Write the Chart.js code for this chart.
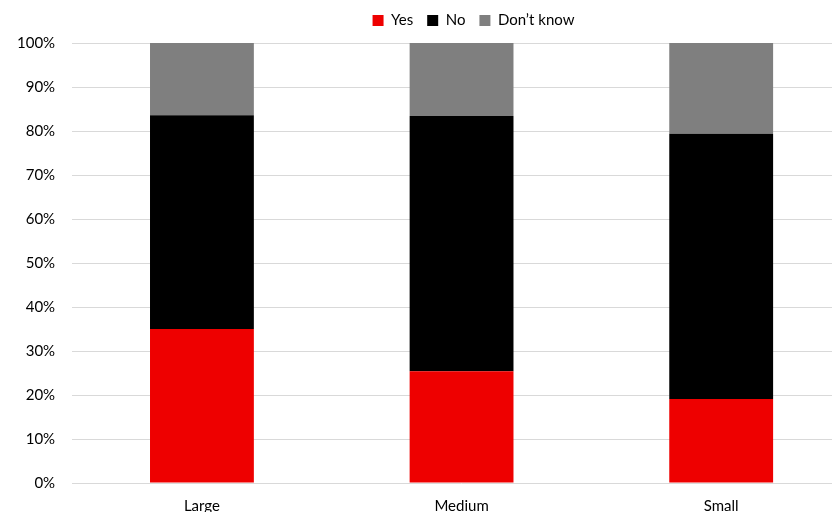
<!DOCTYPE html>
<html>
<head>
<meta charset="utf-8">
<script src="https://cdn.jsdelivr.net/npm/chart.js@4/dist/chart.umd.min.js"></script>
<style>
  html, body { margin: 0; padding: 0; background: #fff; }
  #wrap { width: 832px; height: 512px; overflow: hidden; position: relative; }
  #box { position: absolute; left: 0; top: 0; width: 851px; height: 521px; }
</style>
</head>
<body>
<div id="wrap"><div id="box"><canvas id="surveyChart"></canvas></div></div>
<script>
const categories = ["Large", "Medium", "Small"];
const yesShare = [35.0, 25.4, 19.1];
const noShare = [48.6, 58.0, 60.3];
const dontKnowShare = [16.4, 16.6, 20.6];
const yTicks = [0, 10, 20, 30, 40, 50, 60, 70, 80, 90, 100];

const FONT = "Lato, 'Liberation Sans', sans-serif";

// nudge the legend so it sits where the wider original layout centred it
const legendShift = {
  id: "legendShift",
  afterLayout(chart) {
    const lg = chart.legend;
    if (!lg) return;
    lg.left += 48;
    lg.right += 48;
    lg.top -= 5;
    lg.bottom -= 5;
  }
};

new Chart(document.getElementById("surveyChart").getContext("2d"), {
  type: "bar",
  data: {
    labels: categories,
    datasets: [
      { label: "Yes", data: yesShare, backgroundColor: "#ee0000" },
      { label: "No", data: noShare, backgroundColor: "#000000" },
      { label: "Don\u2019t know", data: dontKnowShare, backgroundColor: "#7f7f7f" }
    ]
  },
  options: {
    responsive: true,
    maintainAspectRatio: false,
    animation: false,
    layout: { padding: { left: 0, top: 4, right: 0, bottom: 0 } },
    datasets: {
      bar: { barPercentage: 0.4, categoryPercentage: 1, borderWidth: 0 }
    },
    plugins: {
      legend: {
        position: "top",
        labels: {
          font: { family: FONT, size: 15 },
          color: "#000",
          boxWidth: 11,
          boxHeight: 11,
          padding: 14
        }
      },
      tooltip: { enabled: false }
    },
    scales: {
      x: {
        stacked: true,
        grid: { display: false },
        border: { display: false },
        ticks: { font: { family: FONT, size: 15 }, color: "#000", padding: 6 }
      },
      y: {
        stacked: true,
        min: 0,
        max: 100,
        afterBuildTicks: axis => { axis.ticks = yTicks.map(v => ({ value: v })); },
        grid: { color: "#d9d9d9", lineWidth: 1, drawTicks: false },
        border: { display: false },
        ticks: {
          font: { family: FONT, size: 15 },
          color: "#000",
          padding: 17,
          callback: v => v + "%"
        }
      }
    }
  },
  plugins: [legendShift]
});
</script>
</body>
</html>
